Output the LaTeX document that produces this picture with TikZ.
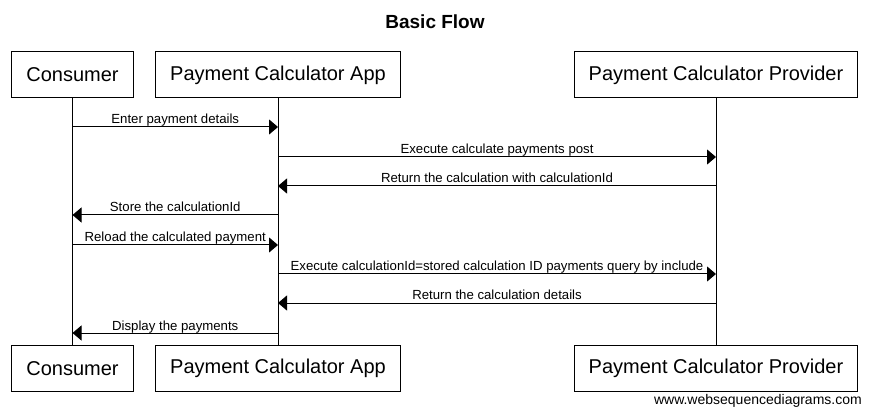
\documentclass[tikz,border=0pt]{standalone}
\usepackage{fontspec}
\setmainfont{Liberation Sans}
\usetikzlibrary{arrows.meta}

\tikzset{
  box/.style={draw, line width=1pt, inner xsep=14.5pt, minimum height=46pt, font=\fontsize{20}{24}\selectfont},
  life/.style={line width=1pt},
  msg/.style={line width=1pt, -{Triangle[length=9pt,width=15pt]}},
  lbl/.style={midway, anchor=base, yshift=3pt, inner sep=0pt, font=\fontsize{13.2}{15}\selectfont}
}

\begin{document}
\begin{tikzpicture}[x=1pt,y=-1pt]
\useasboundingbox (0,0) rectangle (869,419);

% タイトル
\node[font=\bfseries\fontsize{19}{22}\selectfont] (title) at (435,22) {Basic Flow};

% 上の箱
\node[box] (consumer) at (72.5,75) {Consumer};
\node[box] (app) at (278,75) {Payment Calculator App};
\node[box] (provider) at (716,75) {Payment Calculator Provider};

% 下の箱
\node[box] (consumerb) at (72.5,368.5) {Consumer};
\node[box] (appb) at (278,368.5) {Payment Calculator App};
\node[box] (providerb) at (716,368.5) {Payment Calculator Provider};

% ライフライン
\draw[life] (consumer) -- (consumerb);
\draw[life] (app) -- (appb);
\draw[life] (provider) -- (providerb);

% メッセージの高さ
\coordinate (m1) at (0,127);
\coordinate (m2) at (0,157);
\coordinate (m3) at (0,186);
\coordinate (m4) at (0,215);
\coordinate (m5) at (0,245);
\coordinate (m6) at (0,274);
\coordinate (m7) at (0,303);
\coordinate (m8) at (0,333);

% メッセージ
\draw[msg] (consumer |- m1) -- node[lbl] {Enter payment details} (app |- m1);
\draw[msg] (app |- m2) -- node[lbl] {Execute calculate payments post} (provider |- m2);
\draw[msg] (provider |- m3) -- node[lbl] {Return the calculation with calculationId} (app |- m3);
\draw[msg] (app |- m4) -- node[lbl] {Store the calculationId} (consumer |- m4);
\draw[msg] (consumer |- m5) -- node[lbl] {Reload the calculated payment} (app |- m5);
\draw[msg] (app |- m6) -- node[lbl] {Execute calculationId=stored calculation ID payments query by include} (provider |- m6);
\draw[msg] (provider |- m7) -- node[lbl] {Return the calculation details} (app |- m7);
\draw[msg] (app |- m8) -- node[lbl] {Display the payments} (consumer |- m8);

% フッター
\node[anchor=east, inner sep=0pt, font=\fontsize{14}{16}\selectfont] (footer) at (862,401) {www.websequencediagrams.com};
\end{tikzpicture}
\end{document}
